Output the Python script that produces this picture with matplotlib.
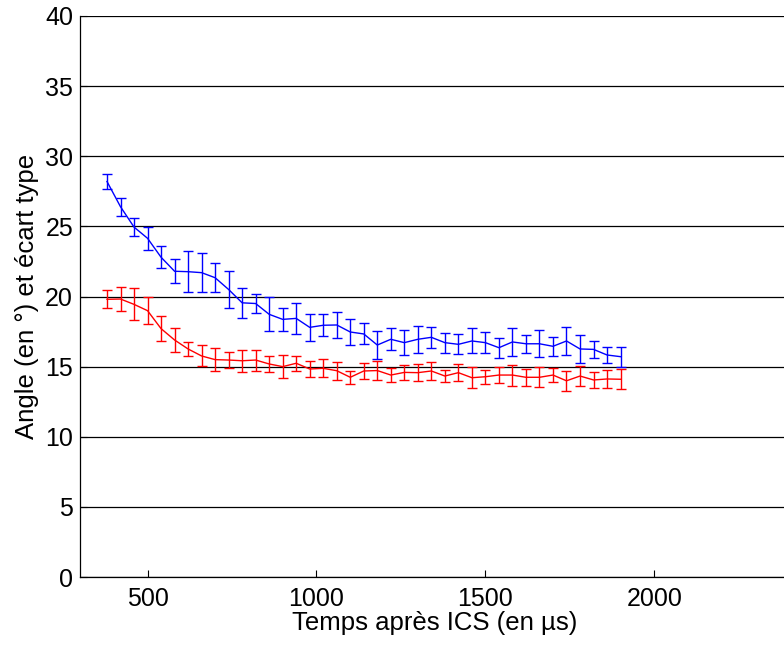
"""Angle vs time after ICS, two series with error bars."""

import matplotlib

matplotlib.use("Agg")
import matplotlib.pyplot as plt

plt.rcParams["font.family"] = ["Liberation Sans", "DejaVu Sans"]

# time after ICS (µs)
times = [380, 420, 460, 500, 540, 580, 620, 660, 700, 740,
         780, 820, 860, 900, 940, 980, 1020, 1060, 1100, 1140,
         1180, 1220, 1260, 1300, 1340, 1380, 1420, 1460, 1500, 1540,
         1580, 1620, 1660, 1700, 1740, 1780, 1820, 1860, 1900]

blue_mean = [28.2, 26.4, 24.95, 24.15, 22.8, 21.8, 21.77, 21.7, 21.34, 20.5,
             19.55, 19.5, 18.73, 18.37, 18.44, 17.8, 17.95, 17.97, 17.47, 17.33,
             16.54, 16.95, 16.71, 16.95, 17.09, 16.71, 16.59, 16.83, 16.71, 16.35,
             16.76, 16.63, 16.63, 16.45, 16.83, 16.26, 16.23, 15.83, 15.71]
blue_err = [0.55, 0.65, 0.62, 0.83, 0.8, 0.85, 1.45, 1.37, 1.05, 1.35,
            1.05, 0.7, 1.2, 0.82, 1.1, 0.97, 0.8, 0.9, 0.95, 0.75,
            1.0, 0.77, 0.87, 0.98, 0.73, 0.71, 0.72, 0.89, 0.77, 0.71,
            1.03, 0.65, 0.96, 0.67, 0.97, 0.98, 0.62, 0.57, 0.72]

red_mean = [19.8, 19.82, 19.44, 18.99, 17.71, 16.9, 16.26, 15.76, 15.5, 15.47,
            15.42, 15.47, 15.19, 15.0, 15.24, 14.83, 14.88, 14.71, 14.24, 14.69,
            14.72, 14.4, 14.59, 14.57, 14.69, 14.33, 14.57, 14.21, 14.28, 14.4,
            14.4, 14.24, 14.24, 14.4, 13.99, 14.33, 14.05, 14.12, 14.1]
red_err = [0.63, 0.88, 1.15, 0.96, 0.87, 0.83, 0.52, 0.75, 0.8, 0.55,
           0.8, 0.75, 0.6, 0.8, 0.53, 0.6, 0.65, 0.65, 0.45, 0.58,
           0.7, 0.47, 0.55, 0.6, 0.67, 0.45, 0.6, 0.74, 0.5, 0.55,
           0.75, 0.6, 0.7, 0.5, 0.7, 0.73, 0.6, 0.66, 0.7]

x_ticks = [500, 1000, 1500, 2000]
y_ticks = [0, 5, 10, 15, 20, 25, 30, 35, 40]

fig = plt.figure(figsize=(7.84, 6.45), dpi=100)
# axis runs a bit past the right edge, like the cropped original
ax = fig.add_axes([0.102, 0.1054, 0.905, 0.8698])

for mean, err, color in [(blue_mean, blue_err, "#0000ff"), (red_mean, red_err, "#ff0000")]:
    ax.errorbar(times, mean, yerr=err, color=color, linewidth=1.0,
                elinewidth=1.0, capsize=3.5, capthick=1.0)

ax.set_xlim(300, 2400)
ax.set_ylim(0, 40)
ax.set_xticks(x_ticks)
ax.set_yticks(y_ticks)
ax.yaxis.grid(True, color="black", linewidth=0.9, linestyle="-")
ax.set_axisbelow(True)
ax.tick_params(direction="in", length=5, labelsize=18, width=0.8)
ax.tick_params(axis="x", pad=7)
ax.tick_params(axis="y", pad=5)
for side in ["top", "right"]:
    ax.spines[side].set_visible(False)
for side in ["left", "bottom"]:
    ax.spines[side].set_linewidth(0.9)

ax.set_xlabel("Temps après ICS (en µs)", fontsize=18.5, labelpad=0)
ax.set_ylabel("Angle (en °) et écart type", fontsize=18.5, labelpad=4)

fig.savefig("out.png", dpi=100)
plt.close(fig)
